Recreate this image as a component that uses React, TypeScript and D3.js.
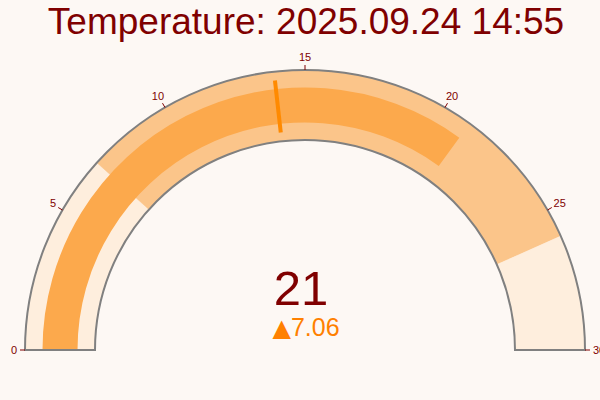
import React from "react";
import * as d3 from "d3";

const titleText = "Temperature: 2025.09.24 14:55";
const gaugeRange = [0, 30];
const gaugeValue = 21;
const deltaValue = 7.06;
const thresholdValue = 13.94;
const tickValues = [0, 5, 10, 15, 20, 25, 30];
const stepRanges: [number, number][] = [
  [0, 7],
  [7, 26],
  [26, 30],
];
const stepColors = ["#feeedd", "#fbc58a", "#feeedd"];

const W = 600;
const H = 400;
const FONT = "'Liberation Sans', Arial, sans-serif";

export default function App() {
  const cx = 305;
  const cy = 350;
  const rOuter = 280;
  const rInner = 210;
  const angle = d3.scaleLinear().domain(gaugeRange).range([-Math.PI / 2, Math.PI / 2]);
  const arc = d3.arc<any>();
  const thick = rOuter - rInner;
  const barIn = rInner + thick * 0.25;
  const barOut = rOuter - thick * 0.25;
  const thrIn = rInner + thick * 0.125;
  const thrOut = rOuter - thick * 0.125;

  const pt = (v: number, r: number) => {
    const a = angle(v);
    return [cx + r * Math.sin(a), cy - r * Math.cos(a)];
  };

  const outline = arc({
    innerRadius: rInner,
    outerRadius: rOuter,
    startAngle: angle(gaugeRange[0]),
    endAngle: angle(gaugeRange[1]),
  }) as string;

  const [t1x, t1y] = pt(thresholdValue, thrIn);
  const [t2x, t2y] = pt(thresholdValue, thrOut);

  return (
    <div style={{ position: "absolute", left: 0, top: 0 }}>
      <svg width={W} height={H} style={{ display: "block" }}>
        <rect width={W} height={H} fill="#fdf8f4" />
        <text
          x={306}
          y={34}
          textAnchor="middle"
          fontFamily={FONT}
          fontSize={37}
          fill="#800000"
        >
          {titleText}
        </text>
        <g transform={`translate(${cx},${cy})`}>
          {stepRanges.map((s, i) => (
            <path
              key={i}
              d={
                arc({
                  innerRadius: rInner,
                  outerRadius: rOuter,
                  startAngle: angle(s[0]),
                  endAngle: angle(s[1]),
                }) as string
              }
              fill={stepColors[i]}
              stroke={stepColors[i]}
              strokeWidth={0.5}
            />
          ))}
          <path
            d={
              arc({
                innerRadius: barIn,
                outerRadius: barOut,
                startAngle: angle(gaugeRange[0]),
                endAngle: angle(gaugeValue),
              }) as string
            }
            fill="#fca94c"
          />
          <path d={outline} fill="none" stroke="#808080" strokeWidth={2} />
        </g>
        <line x1={t1x} y1={t1y} x2={t2x} y2={t2y} stroke="#ff8a00" strokeWidth={4} />
        {tickValues.map((v) => {
          const a = angle(v);
          const dx = Math.sin(a);
          const dy = -Math.cos(a);
          const [x1, y1] = pt(v, rOuter);
          const [x2, y2] = pt(v, rOuter + 5);
          const label = String(v);
          const w = label.length * 6.1;
          const h = 11;
          const [lx, ly] = pt(v, rOuter + 8);
          const tx = lx + (dx * w) / 2;
          const ty = ly + (dy * h) / 2;
          return (
            <g key={v}>
              <line x1={x1} y1={y1} x2={x2} y2={y2} stroke="#800000" strokeWidth={1} />
              <text
                x={tx}
                y={ty}
                textAnchor="middle"
                dominantBaseline="central"
                fontFamily={FONT}
                fontSize={11}
                fill="#800000"
              >
                {label}
              </text>
            </g>
          );
        })}
        <text
          x={301}
          y={305}
          textAnchor="middle"
          fontFamily={FONT}
          fontSize={49}
          fill="#800000"
        >
          {d3.format("d")(gaugeValue)}
        </text>
        <text
          x={306}
          y={336}
          textAnchor="middle"
          fontFamily={FONT}
          fontSize={25}
          fill="#ff8000"
        >
          <tspan fontFamily="'DejaVu Sans'" fontSize={24}>
            {"▲"}
          </tspan>
          <tspan>{d3.format(".2f")(deltaValue)}</tspan>
        </text>
      </svg>
    </div>
  );
}
